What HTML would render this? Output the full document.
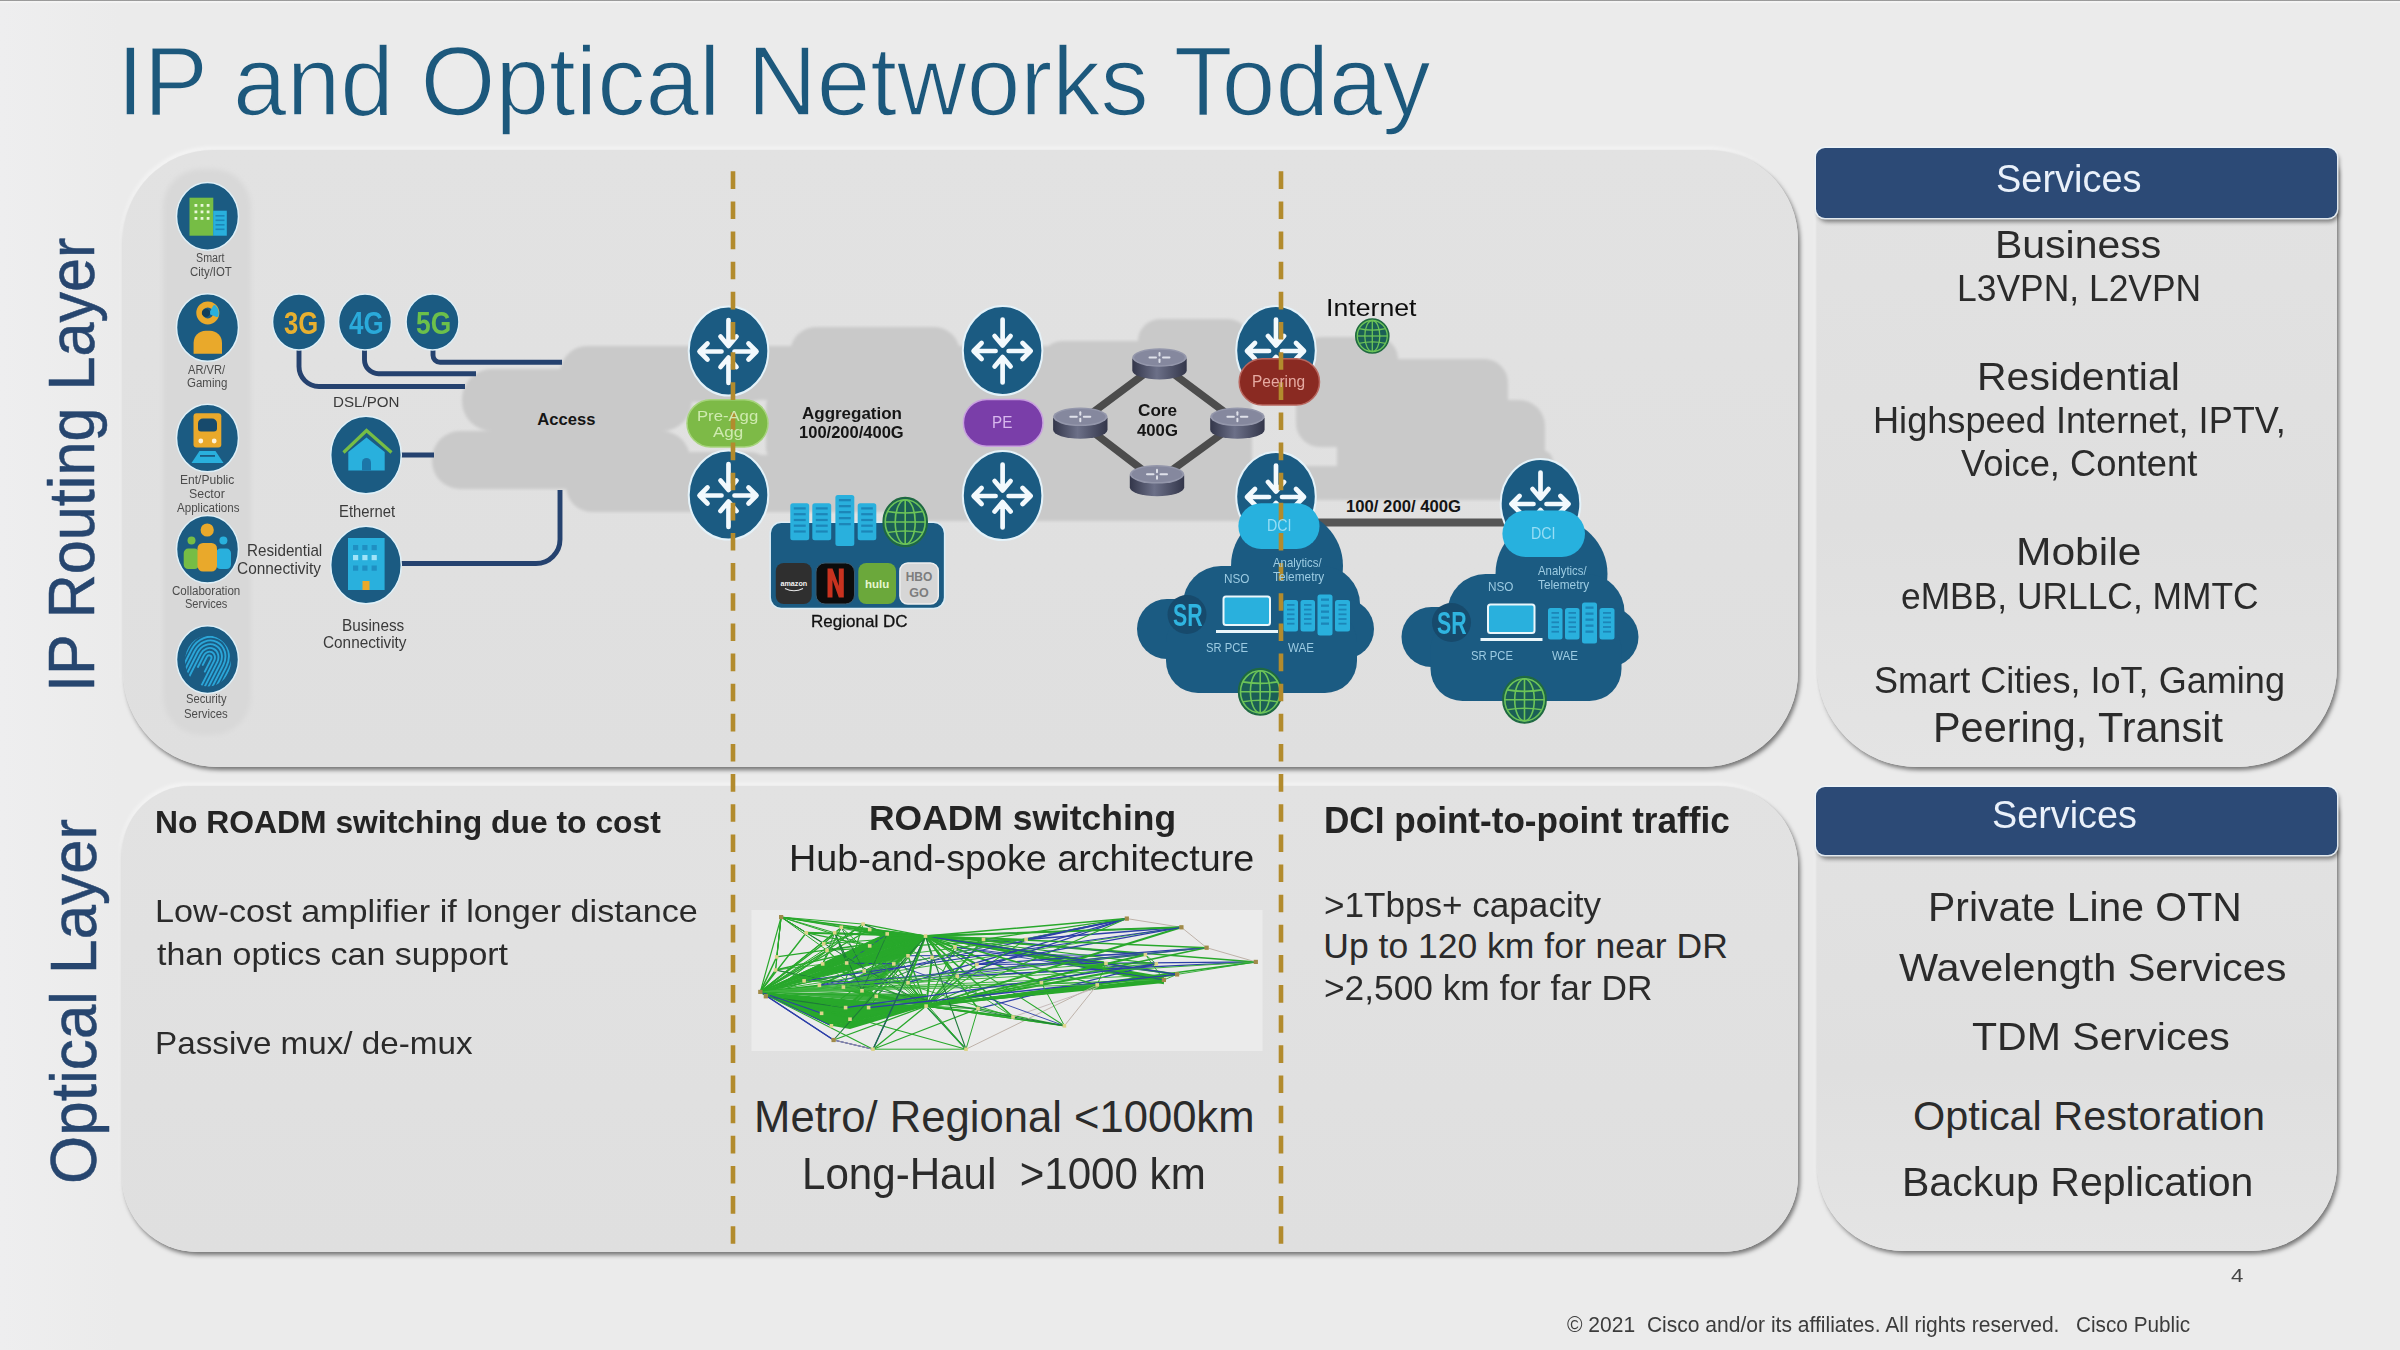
<!DOCTYPE html>
<html>
<head>
<meta charset="utf-8">
<title>IP and Optical Networks Today</title>
<style>
html,body{margin:0;padding:0;}
body{width:2400px;height:1350px;overflow:hidden;position:relative;background:#ebebeb;font-family:"Liberation Sans",sans-serif;}
.abs{position:absolute;}
#bg{left:0;top:0;width:2400px;height:1350px;background:linear-gradient(90deg,#eeeeef 0%,#ebebeb 5%,#ebebeb 100%);}
#topline{left:0;top:0;width:2400px;height:3.4px;background:linear-gradient(180deg,#999 0%,#9b9b9b 22%,#f4f4f4 42%,#f6f6f6 75%,#ebebeb 100%);}
.panel{background:linear-gradient(180deg,#e2e2e2 0%,#dfdfdf 100%);box-shadow:2px 3px 4px rgba(0,0,0,0.5),-1px -3px 4px rgba(255,255,255,0.55);}
.svc-body{background:linear-gradient(180deg,#e2e2e2 0%,#dfdfdf 60%,#e4e4e4 100%);box-shadow:2px 3px 4px rgba(0,0,0,0.5),-2px 0 3px rgba(255,255,255,0.5);}
.svc-head{background:#2c4a76;border-radius:9px;box-shadow:0 0 0 1.5px rgba(236,244,250,0.9),2px 4px 4px rgba(0,0,0,0.45);}
.t{position:absolute;white-space:pre;transform-origin:0 50%;}
svg{position:absolute;left:0;top:0;}
</style>
</head>
<body>
<div id="bg" class="abs"></div>
<div id="topline" class="abs"></div>
<div class="abs panel" style="left:123px;top:150px;width:1675px;height:617px;border-radius:90px 90px 95px 95px;"></div>
<div class="abs panel" style="left:122px;top:786px;width:1676px;height:466px;border-radius:68px 80px 75px 75px;"></div>
<div class="abs svc-body" style="left:1817px;top:160px;width:520px;height:607px;border-radius:10px 10px 100px 100px;"></div>
<div class="abs svc-head" style="left:1816px;top:148px;width:521px;height:70px;"></div>
<div class="abs svc-body" style="left:1817px;top:800px;width:520px;height:451px;border-radius:10px 10px 86px 86px;"></div>
<div class="abs svc-head" style="left:1816px;top:787px;width:521px;height:68px;"></div>
<svg width="2400" height="1350" viewBox="0 0 2400 1350">
<defs><filter id="b1" x="-5%" y="-5%" width="110%" height="110%"><feGaussianBlur stdDeviation="1.6"/></filter><linearGradient id="cyl" x1="0" x2="1" y1="0" y2="0"><stop offset="0" stop-color="#33364a"/><stop offset="0.45" stop-color="#6c7088"/><stop offset="1" stop-color="#33364a"/></linearGradient><filter id="b3" x="-20%" y="-5%" width="140%" height="110%"><feGaussianBlur stdDeviation="2.5"/></filter></defs>
<rect x="163" y="169" width="88" height="566" rx="38" fill="#d8d8d8" filter="url(#b3)"/>
<g fill="#c9c9c9" filter="url(#b1)">
<rect x="560.0" y="346.0" width="215.0" height="56.0" rx="27.0" ry="27.0" fill="#c9c9c9" />
<rect x="462.0" y="369.0" width="230.0" height="62.0" rx="30.0" ry="30.0" fill="#c9c9c9" />
<rect x="432.0" y="431.0" width="258.0" height="58.0" rx="28.0" ry="28.0" fill="#c9c9c9" />
<rect x="566.0" y="452.0" width="209.0" height="60.0" rx="26.0" ry="26.0" fill="#c9c9c9" />
<rect x="600.0" y="395.0" width="62.0" height="65.0" rx="0.0" ry="0.0" fill="#c9c9c9" />
<rect x="790.0" y="327.0" width="170.0" height="58.0" rx="26.0" ry="26.0" fill="#c9c9c9" />
<rect x="740.0" y="346.0" width="510.0" height="54.0" rx="10.0" ry="10.0" fill="#c9c9c9" />
<rect x="766.0" y="392.0" width="200.0" height="70.0" rx="14.0" ry="14.0" fill="#c9c9c9" />
<rect x="740.0" y="455.0" width="510.0" height="57.0" rx="10.0" ry="10.0" fill="#c9c9c9" />
<rect x="955.0" y="396.0" width="95.0" height="64.0" rx="0.0" ry="0.0" fill="#c9c9c9" />
<rect x="1138.0" y="319.0" width="112.0" height="46.0" rx="22.0" ry="22.0" fill="#c9c9c9" />
<rect x="1042.0" y="341.0" width="210.0" height="180.0" rx="20.0" ry="20.0" fill="#c9c9c9" />
<rect x="880.0" y="462.0" width="370.0" height="59.0" rx="22.0" ry="22.0" fill="#c9c9c9" />
<rect x="1230.0" y="341.0" width="100.0" height="61.0" rx="6.0" ry="6.0" fill="#c9c9c9" />
<rect x="1230.0" y="466.0" width="60.0" height="55.0" rx="6.0" ry="6.0" fill="#c9c9c9" />
<rect x="1280.0" y="466.0" width="120.0" height="34.0" rx="4.0" ry="4.0" fill="#c9c9c9" />
<rect x="1300.0" y="337.0" width="98.0" height="65.0" rx="22.0" ry="22.0" fill="#c9c9c9" />
<rect x="1296.0" y="359.0" width="212.0" height="88.0" rx="24.0" ry="24.0" fill="#c9c9c9" />
<rect x="1380.0" y="400.0" width="165.0" height="100.0" rx="26.0" ry="26.0" fill="#c9c9c9" />
<rect x="1337.0" y="425.0" width="208.0" height="75.0" rx="14.0" ry="14.0" fill="#c9c9c9" />
<rect x="1490.0" y="450.0" width="63.0" height="50.0" rx="12.0" ry="12.0" fill="#c9c9c9" />
</g>
<g fill="none" stroke="#25426f" stroke-width="4.9">
<path d="M299,348 V366.5 a20,20 0 0 0 20,20 H465"/>
<path d="M364.5,348 V359.7 a14,14 0 0 0 14,14 H476"/>
<path d="M433,348 V355.3 a7,7 0 0 0 7,7 H562"/>
<path d="M400,455 H434"/>
<path d="M400,563.5 H536 a24,24 0 0 0 24,-24 V490"/>
</g>
<g stroke="#4c4c4c" stroke-width="7.6" stroke-linecap="round">
<line x1="1159" y1="363" x2="1080" y2="422"/><line x1="1159" y1="363" x2="1238" y2="422"/>
<line x1="1157" y1="481" x2="1080" y2="422"/><line x1="1157" y1="481" x2="1238" y2="422"/>
</g>
<path d="M1132.3,358.5 v12 a27.2,9 0 0 0 54.4,0 v-12 z" fill="url(#cyl)"/>
<ellipse cx="1159.5" cy="357.5" rx="27.2" ry="9.3" fill="#9497ab"/>
<ellipse cx="1159.5" cy="357.5" rx="25.2" ry="7.8" fill="#85889e"/>
<g stroke="#dfe1ea" stroke-width="2" stroke-linecap="round"><line x1="1149.5" y1="357.5" x2="1156.0" y2="357.5"/><line x1="1163.0" y1="357.5" x2="1169.5" y2="357.5"/><line x1="1159.5" y1="353.0" x2="1159.5" y2="355.5"/><line x1="1159.5" y1="359.5" x2="1159.5" y2="362.0"/></g>
<path d="M1053.1,417.8 v12 a27.2,9 0 0 0 54.4,0 v-12 z" fill="url(#cyl)"/>
<ellipse cx="1080.3" cy="416.8" rx="27.2" ry="9.3" fill="#9497ab"/>
<ellipse cx="1080.3" cy="416.8" rx="25.2" ry="7.8" fill="#85889e"/>
<g stroke="#dfe1ea" stroke-width="2" stroke-linecap="round"><line x1="1070.3" y1="416.8" x2="1076.8" y2="416.8"/><line x1="1083.8" y1="416.8" x2="1090.3" y2="416.8"/><line x1="1080.3" y1="412.3" x2="1080.3" y2="414.8"/><line x1="1080.3" y1="418.8" x2="1080.3" y2="421.3"/></g>
<path d="M1210.2,417.8 v12 a27.2,9 0 0 0 54.4,0 v-12 z" fill="url(#cyl)"/>
<ellipse cx="1237.4" cy="416.8" rx="27.2" ry="9.3" fill="#9497ab"/>
<ellipse cx="1237.4" cy="416.8" rx="25.2" ry="7.8" fill="#85889e"/>
<g stroke="#dfe1ea" stroke-width="2" stroke-linecap="round"><line x1="1227.4" y1="416.8" x2="1233.9" y2="416.8"/><line x1="1240.9" y1="416.8" x2="1247.4" y2="416.8"/><line x1="1237.4" y1="412.3" x2="1237.4" y2="414.8"/><line x1="1237.4" y1="418.8" x2="1237.4" y2="421.3"/></g>
<path d="M1129.8,475.3 v12 a27.2,9 0 0 0 54.4,0 v-12 z" fill="url(#cyl)"/>
<ellipse cx="1157.0" cy="474.3" rx="27.2" ry="9.3" fill="#9497ab"/>
<ellipse cx="1157.0" cy="474.3" rx="25.2" ry="7.8" fill="#85889e"/>
<g stroke="#dfe1ea" stroke-width="2" stroke-linecap="round"><line x1="1147.0" y1="474.3" x2="1153.5" y2="474.3"/><line x1="1160.5" y1="474.3" x2="1167.0" y2="474.3"/><line x1="1157.0" y1="469.8" x2="1157.0" y2="472.3"/><line x1="1157.0" y1="476.3" x2="1157.0" y2="478.8"/></g>
<rect x="1310" y="518.5" width="200" height="8" fill="#555"/>
<g transform="translate(0.0 0.0)">
<g fill="#1b5b82">
<circle cx="1287" cy="566" r="56"/>
<rect x="1183.0" y="566.0" width="177.0" height="94.0" rx="38.0" ry="38.0" fill="#1b5b82" />
<rect x="1137.0" y="599.0" width="237.0" height="60.0" rx="30.0" ry="30.0" fill="#1b5b82" />
<rect x="1166.0" y="610.0" width="191.0" height="83.0" rx="32.0" ry="32.0" fill="#1b5b82" />
</g>
<circle cx="1187" cy="614.5" r="19.5" fill="#174a6c"/>
<rect x="1223.5" y="596.5" width="46.5" height="28.5" rx="2.5" fill="#29b0dd" stroke="#eaf6fb" stroke-width="2"/>
<rect x="1216" y="630" width="62" height="3" fill="#eaf6fb"/>
<rect x="1283.5" y="600.0" width="14.5" height="31.5" rx="2.5" ry="2.5" fill="#29b0dd" />
<rect x="1287.0" y="604.0" width="7.5" height="1.8" fill="#1c86b8"/>
<rect x="1287.0" y="608.7" width="7.5" height="1.8" fill="#1c86b8"/>
<rect x="1287.0" y="613.4" width="7.5" height="1.8" fill="#1c86b8"/>
<rect x="1287.0" y="618.1" width="7.5" height="1.8" fill="#1c86b8"/>
<rect x="1287.0" y="622.8" width="7.5" height="1.8" fill="#1c86b8"/>
<rect x="1300.5" y="600.0" width="14.5" height="31.5" rx="2.5" ry="2.5" fill="#29b0dd" />
<rect x="1304.0" y="604.0" width="7.5" height="1.8" fill="#1c86b8"/>
<rect x="1304.0" y="608.7" width="7.5" height="1.8" fill="#1c86b8"/>
<rect x="1304.0" y="613.4" width="7.5" height="1.8" fill="#1c86b8"/>
<rect x="1304.0" y="618.1" width="7.5" height="1.8" fill="#1c86b8"/>
<rect x="1304.0" y="622.8" width="7.5" height="1.8" fill="#1c86b8"/>
<rect x="1317.5" y="594.5" width="15.0" height="41.0" rx="2.5" ry="2.5" fill="#29b0dd" />
<rect x="1321.0" y="598.5" width="8.0" height="2.3" fill="#1c86b8"/>
<rect x="1321.0" y="604.5" width="8.0" height="2.3" fill="#1c86b8"/>
<rect x="1321.0" y="610.5" width="8.0" height="2.3" fill="#1c86b8"/>
<rect x="1321.0" y="616.5" width="8.0" height="2.3" fill="#1c86b8"/>
<rect x="1321.0" y="622.5" width="8.0" height="2.3" fill="#1c86b8"/>
<rect x="1335.0" y="600.0" width="15.0" height="31.5" rx="2.5" ry="2.5" fill="#29b0dd" />
<rect x="1338.5" y="604.0" width="8.0" height="1.8" fill="#1c86b8"/>
<rect x="1338.5" y="608.7" width="8.0" height="1.8" fill="#1c86b8"/>
<rect x="1338.5" y="613.4" width="8.0" height="1.8" fill="#1c86b8"/>
<rect x="1338.5" y="618.1" width="8.0" height="1.8" fill="#1c86b8"/>
<rect x="1338.5" y="622.8" width="8.0" height="1.8" fill="#1c86b8"/>
</g>
<g transform="translate(264.5 8.0)">
<g fill="#1b5b82">
<circle cx="1287" cy="566" r="56"/>
<rect x="1183.0" y="566.0" width="177.0" height="94.0" rx="38.0" ry="38.0" fill="#1b5b82" />
<rect x="1137.0" y="599.0" width="237.0" height="60.0" rx="30.0" ry="30.0" fill="#1b5b82" />
<rect x="1166.0" y="610.0" width="191.0" height="83.0" rx="32.0" ry="32.0" fill="#1b5b82" />
</g>
<circle cx="1187" cy="614.5" r="19.5" fill="#174a6c"/>
<rect x="1223.5" y="596.5" width="46.5" height="28.5" rx="2.5" fill="#29b0dd" stroke="#eaf6fb" stroke-width="2"/>
<rect x="1216" y="630" width="62" height="3" fill="#eaf6fb"/>
<rect x="1283.5" y="600.0" width="14.5" height="31.5" rx="2.5" ry="2.5" fill="#29b0dd" />
<rect x="1287.0" y="604.0" width="7.5" height="1.8" fill="#1c86b8"/>
<rect x="1287.0" y="608.7" width="7.5" height="1.8" fill="#1c86b8"/>
<rect x="1287.0" y="613.4" width="7.5" height="1.8" fill="#1c86b8"/>
<rect x="1287.0" y="618.1" width="7.5" height="1.8" fill="#1c86b8"/>
<rect x="1287.0" y="622.8" width="7.5" height="1.8" fill="#1c86b8"/>
<rect x="1300.5" y="600.0" width="14.5" height="31.5" rx="2.5" ry="2.5" fill="#29b0dd" />
<rect x="1304.0" y="604.0" width="7.5" height="1.8" fill="#1c86b8"/>
<rect x="1304.0" y="608.7" width="7.5" height="1.8" fill="#1c86b8"/>
<rect x="1304.0" y="613.4" width="7.5" height="1.8" fill="#1c86b8"/>
<rect x="1304.0" y="618.1" width="7.5" height="1.8" fill="#1c86b8"/>
<rect x="1304.0" y="622.8" width="7.5" height="1.8" fill="#1c86b8"/>
<rect x="1317.5" y="594.5" width="15.0" height="41.0" rx="2.5" ry="2.5" fill="#29b0dd" />
<rect x="1321.0" y="598.5" width="8.0" height="2.3" fill="#1c86b8"/>
<rect x="1321.0" y="604.5" width="8.0" height="2.3" fill="#1c86b8"/>
<rect x="1321.0" y="610.5" width="8.0" height="2.3" fill="#1c86b8"/>
<rect x="1321.0" y="616.5" width="8.0" height="2.3" fill="#1c86b8"/>
<rect x="1321.0" y="622.5" width="8.0" height="2.3" fill="#1c86b8"/>
<rect x="1335.0" y="600.0" width="15.0" height="31.5" rx="2.5" ry="2.5" fill="#29b0dd" />
<rect x="1338.5" y="604.0" width="8.0" height="1.8" fill="#1c86b8"/>
<rect x="1338.5" y="608.7" width="8.0" height="1.8" fill="#1c86b8"/>
<rect x="1338.5" y="613.4" width="8.0" height="1.8" fill="#1c86b8"/>
<rect x="1338.5" y="618.1" width="8.0" height="1.8" fill="#1c86b8"/>
<rect x="1338.5" y="622.8" width="8.0" height="1.8" fill="#1c86b8"/>
</g>
<ellipse cx="728.5" cy="351.0" rx="39.8" ry="44.5" fill="#1b5b82" stroke="#e4f2f9" stroke-width="2"/>
<g transform="translate(728.5 351.0)" fill="none" stroke="#f2f9fd" stroke-width="4.7" stroke-linecap="round" stroke-linejoin="round">
<path d="M0,-31 L0,-6 M-8,-14.5 L0,-5 L8,-14.5"/>
<path d="M0,32 L0,8 M-8,16 L0,6.5 L8,16"/>
<path d="M-7,0.5 L-28,0.5 M-21,-7.5 L-29,0.5 L-21,8.5"/>
<path d="M6,0.5 L27,0.5 M20,-7.5 L28,0.5 L20,8.5"/>
</g>
<ellipse cx="728.5" cy="495.0" rx="39.8" ry="44.5" fill="#1b5b82" stroke="#e4f2f9" stroke-width="2"/>
<g transform="translate(728.5 495.0)" fill="none" stroke="#f2f9fd" stroke-width="4.7" stroke-linecap="round" stroke-linejoin="round">
<path d="M0,-31 L0,-6 M-8,-14.5 L0,-5 L8,-14.5"/>
<path d="M0,32 L0,8 M-8,16 L0,6.5 L8,16"/>
<path d="M-7,0.5 L-28,0.5 M-21,-7.5 L-29,0.5 L-21,8.5"/>
<path d="M6,0.5 L27,0.5 M20,-7.5 L28,0.5 L20,8.5"/>
</g>
<ellipse cx="1002.6" cy="350.5" rx="39.8" ry="44.5" fill="#1b5b82" stroke="#e4f2f9" stroke-width="2"/>
<g transform="translate(1002.6 350.5)" fill="none" stroke="#f2f9fd" stroke-width="4.7" stroke-linecap="round" stroke-linejoin="round">
<path d="M0,-31 L0,-6 M-8,-14.5 L0,-5 L8,-14.5"/>
<path d="M0,32 L0,8 M-8,16 L0,6.5 L8,16"/>
<path d="M-7,0.5 L-28,0.5 M-21,-7.5 L-29,0.5 L-21,8.5"/>
<path d="M6,0.5 L27,0.5 M20,-7.5 L28,0.5 L20,8.5"/>
</g>
<ellipse cx="1002.6" cy="495.5" rx="39.8" ry="44.5" fill="#1b5b82" stroke="#e4f2f9" stroke-width="2"/>
<g transform="translate(1002.6 495.5)" fill="none" stroke="#f2f9fd" stroke-width="4.7" stroke-linecap="round" stroke-linejoin="round">
<path d="M0,-31 L0,-6 M-8,-14.5 L0,-5 L8,-14.5"/>
<path d="M0,32 L0,8 M-8,16 L0,6.5 L8,16"/>
<path d="M-7,0.5 L-28,0.5 M-21,-7.5 L-29,0.5 L-21,8.5"/>
<path d="M6,0.5 L27,0.5 M20,-7.5 L28,0.5 L20,8.5"/>
</g>
<ellipse cx="1276.0" cy="350.5" rx="39.8" ry="44.5" fill="#1b5b82" stroke="#e4f2f9" stroke-width="2"/>
<g transform="translate(1276.0 350.5)" fill="none" stroke="#f2f9fd" stroke-width="4.7" stroke-linecap="round" stroke-linejoin="round">
<path d="M0,-31 L0,-6 M-8,-14.5 L0,-5 L8,-14.5"/>
<path d="M0,32 L0,8 M-8,16 L0,6.5 L8,16"/>
<path d="M-7,0.5 L-28,0.5 M-21,-7.5 L-29,0.5 L-21,8.5"/>
<path d="M6,0.5 L27,0.5 M20,-7.5 L28,0.5 L20,8.5"/>
</g>
<ellipse cx="1276.0" cy="496.5" rx="39.8" ry="44.5" fill="#1b5b82" stroke="#e4f2f9" stroke-width="2"/>
<g transform="translate(1276.0 496.5)" fill="none" stroke="#f2f9fd" stroke-width="4.7" stroke-linecap="round" stroke-linejoin="round">
<path d="M0,-31 L0,-6 M-8,-14.5 L0,-5 L8,-14.5"/>
<path d="M0,32 L0,8 M-8,16 L0,6.5 L8,16"/>
<path d="M-7,0.5 L-28,0.5 M-21,-7.5 L-29,0.5 L-21,8.5"/>
<path d="M6,0.5 L27,0.5 M20,-7.5 L28,0.5 L20,8.5"/>
</g>
<ellipse cx="1540.5" cy="503.5" rx="39.8" ry="44.5" fill="#1b5b82" stroke="#e4f2f9" stroke-width="2"/>
<g transform="translate(1540.5 503.5)" fill="none" stroke="#f2f9fd" stroke-width="4.7" stroke-linecap="round" stroke-linejoin="round">
<path d="M0,-31 L0,-6 M-8,-14.5 L0,-5 L8,-14.5"/>
<path d="M0,32 L0,8 M-8,16 L0,6.5 L8,16"/>
<path d="M-7,0.5 L-28,0.5 M-21,-7.5 L-29,0.5 L-21,8.5"/>
<path d="M6,0.5 L27,0.5 M20,-7.5 L28,0.5 L20,8.5"/>
</g>
<rect x="687.0" y="399.7" width="81.0" height="47.3" rx="23.7" ry="23.7" fill="#7dba47" stroke="#a6d47c" stroke-width="1.5"/>
<rect x="963.4" y="399.5" width="79.6" height="46.7" rx="23.3" ry="23.3" fill="#7a3ea9" stroke="#c9a0e0" stroke-width="1.5"/>
<rect x="1239.2" y="358.8" width="80.3" height="46.2" rx="23.1" ry="23.1" fill="#8a2a22" stroke="#b8665e" stroke-width="1.5"/>
<rect x="1238.4" y="503.3" width="81.1" height="45.7" rx="22.8" ry="22.8" fill="#27b1de" />
<rect x="1502.4" y="510.5" width="82.6" height="46.5" rx="23.2" ry="23.2" fill="#27b1de" />
<rect x="770.2" y="522.2" width="174.4" height="86.3" rx="11.0" ry="11.0" fill="#1b5b82" stroke="#dcedf6" stroke-width="1.5"/>
<rect x="790.3" y="503.3" width="18.9" height="36.9" rx="2.5" ry="2.5" fill="#29b0dd" />
<rect x="793.8" y="507.3" width="11.9" height="2.2" fill="#1c86b8"/>
<rect x="793.8" y="513.1" width="11.9" height="2.2" fill="#1c86b8"/>
<rect x="793.8" y="518.9" width="11.9" height="2.2" fill="#1c86b8"/>
<rect x="793.8" y="524.6" width="11.9" height="2.2" fill="#1c86b8"/>
<rect x="793.8" y="530.4" width="11.9" height="2.2" fill="#1c86b8"/>
<rect x="812.3" y="503.3" width="18.9" height="36.9" rx="2.5" ry="2.5" fill="#29b0dd" />
<rect x="815.8" y="507.3" width="11.9" height="2.2" fill="#1c86b8"/>
<rect x="815.8" y="513.1" width="11.9" height="2.2" fill="#1c86b8"/>
<rect x="815.8" y="518.9" width="11.9" height="2.2" fill="#1c86b8"/>
<rect x="815.8" y="524.6" width="11.9" height="2.2" fill="#1c86b8"/>
<rect x="815.8" y="530.4" width="11.9" height="2.2" fill="#1c86b8"/>
<rect x="835.4" y="495.0" width="18.9" height="51.0" rx="2.5" ry="2.5" fill="#29b0dd" />
<rect x="838.9" y="499.0" width="11.9" height="2.3" fill="#1c86b8"/>
<rect x="838.9" y="505.0" width="11.9" height="2.3" fill="#1c86b8"/>
<rect x="838.9" y="511.0" width="11.9" height="2.3" fill="#1c86b8"/>
<rect x="838.9" y="517.0" width="11.9" height="2.3" fill="#1c86b8"/>
<rect x="838.9" y="523.0" width="11.9" height="2.3" fill="#1c86b8"/>
<rect x="857.7" y="503.3" width="18.6" height="36.9" rx="2.5" ry="2.5" fill="#29b0dd" />
<rect x="861.2" y="507.3" width="11.6" height="2.2" fill="#1c86b8"/>
<rect x="861.2" y="513.1" width="11.6" height="2.2" fill="#1c86b8"/>
<rect x="861.2" y="518.9" width="11.6" height="2.2" fill="#1c86b8"/>
<rect x="861.2" y="524.6" width="11.6" height="2.2" fill="#1c86b8"/>
<rect x="861.2" y="530.4" width="11.6" height="2.2" fill="#1c86b8"/>
<g transform="translate(905.2 522.0)">
<ellipse cx="0" cy="0" rx="22.0" ry="24.5" fill="#1b5f56" stroke="#1f6a3f" stroke-width="1.6"/>
<g fill="none" stroke="#6cc458" stroke-width="1.6">
<ellipse cx="0" cy="0" rx="20.0" ry="22.3"/>
<ellipse cx="0" cy="0" rx="10.0" ry="22.3"/>
<line x1="0" y1="-22.3" x2="0" y2="22.3"/>
<line x1="-20.0" y1="0" x2="20.0" y2="0"/>
<path d="M-17.7,-10.5 Q0,-7.5 17.7,-10.5"/>
<path d="M-17.7,10.5 Q0,7.5 17.7,10.5"/>
</g></g>
<rect x="775.8" y="563.0" width="35.9" height="41.0" rx="8.0" ry="8.0" fill="#2f2f2f" />
<rect x="816.0" y="563.0" width="38.5" height="41.0" rx="9.0" ry="9.0" fill="#0c0c0c" stroke="#3a5a6e" stroke-width="1"/>
<rect x="858.3" y="563.0" width="37.7" height="41.0" rx="8.0" ry="8.0" fill="#6ba83b" />
<rect x="899.9" y="563.0" width="38.4" height="41.0" rx="8.0" ry="8.0" fill="#d6d6d6" stroke="#eeeeee" stroke-width="1.5"/>
<path d="M827.5,568.5 h5 l6.3,17.5 v-17.5 h5 v29 h-5 l-6.3,-17.5 v17.5 h-5 z" fill="#c8321f"/>
<text x="793.8" y="586" font-family="Liberation Sans" font-weight="bold" font-size="7.2" fill="#f2f2f2" text-anchor="middle">amazon</text>
<path d="M785,588.5 q9,4.5 18,0" stroke="#e8e8e8" stroke-width="1.1" fill="none"/>
<text x="877.2" y="588" font-family="Liberation Sans" font-weight="bold" font-size="11.5" fill="#e6f7d0" text-anchor="middle">hulu</text>
<text x="919" y="581" font-family="Liberation Sans" font-weight="bold" font-size="12" fill="#7d7d7d" text-anchor="middle">HBO</text>
<text x="919" y="597" font-family="Liberation Sans" font-weight="bold" font-size="12.5" fill="#7d7d7d" text-anchor="middle">GO</text>
<ellipse cx="299.0" cy="322" rx="26.4" ry="28" fill="#1b5b82" stroke="#dff0f8" stroke-width="1.4"/>
<ellipse cx="365.0" cy="322" rx="26.4" ry="28" fill="#1b5b82" stroke="#dff0f8" stroke-width="1.4"/>
<ellipse cx="432.5" cy="322" rx="26.4" ry="28" fill="#1b5b82" stroke="#dff0f8" stroke-width="1.4"/>
<ellipse cx="366" cy="455" rx="35.3" ry="38.8" fill="#1b5b82" stroke="#dff0f8" stroke-width="1.5"/>
<path d="M348.3,470.5 V452 L366.5,437.5 L384.7,452 V470.5 z" fill="#29b0dd"/>
<path d="M343.5,452.5 L366.5,430.5 L391.5,452.5" fill="none" stroke="#76bd45" stroke-width="3.2"/>
<path d="M362,470.5 v-8 a4.5,4.5 0 0 1 9,0 v8 z" fill="#1c76a8"/>
<ellipse cx="366" cy="565" rx="35.3" ry="38.8" fill="#1b5b82" stroke="#dff0f8" stroke-width="1.5"/>
<rect x="348" y="538" width="36.6" height="52" fill="#29b0dd"/>
<rect x="353.0" y="545.0" width="5.2" height="5.2" fill="#1f8fc2"/>
<rect x="362.3" y="545.0" width="5.2" height="5.2" fill="#1f8fc2"/>
<rect x="371.6" y="545.0" width="5.2" height="5.2" fill="#1f8fc2"/>
<rect x="353.0" y="555.0" width="5.2" height="5.2" fill="#9fe3f8"/>
<rect x="362.3" y="555.0" width="5.2" height="5.2" fill="#9fe3f8"/>
<rect x="371.6" y="555.0" width="5.2" height="5.2" fill="#9fe3f8"/>
<rect x="353.0" y="565.5" width="5.2" height="5.2" fill="#1f8fc2"/>
<rect x="362.3" y="565.5" width="5.2" height="5.2" fill="#1f8fc2"/>
<rect x="371.6" y="565.5" width="5.2" height="5.2" fill="#1f8fc2"/>
<rect x="362.5" y="581" width="7" height="9" fill="#e9a92b"/>
<ellipse cx="207.5" cy="216.4" rx="31" ry="33.8" fill="#1b5b82" stroke="#dff0f8" stroke-width="1.5"/>
<rect x="189.5" y="197.7" width="23.8" height="38" fill="#76bd45"/>
<rect x="213.2" y="210.7" width="13.6" height="25" fill="#29b0dd"/>
<rect x="194.5" y="204.0" width="2.8" height="2.8" fill="#e9f8d8"/>
<rect x="200.6" y="204.0" width="2.8" height="2.8" fill="#e9f8d8"/>
<rect x="206.7" y="204.0" width="2.8" height="2.8" fill="#e9f8d8"/>
<rect x="194.5" y="210.5" width="2.8" height="2.8" fill="#e9f8d8"/>
<rect x="200.6" y="210.5" width="2.8" height="2.8" fill="#e9f8d8"/>
<rect x="206.7" y="210.5" width="2.8" height="2.8" fill="#e9f8d8"/>
<rect x="194.5" y="217.0" width="2.8" height="2.8" fill="#e9f8d8"/>
<rect x="200.6" y="217.0" width="2.8" height="2.8" fill="#e9f8d8"/>
<rect x="206.7" y="217.0" width="2.8" height="2.8" fill="#e9f8d8"/>
<rect x="215.5" y="215.0" width="9" height="1.6" fill="#1c86b8"/>
<rect x="215.5" y="219.5" width="9" height="1.6" fill="#1c86b8"/>
<rect x="215.5" y="224.0" width="9" height="1.6" fill="#1c86b8"/>
<rect x="215.5" y="228.5" width="9" height="1.6" fill="#1c86b8"/>
<ellipse cx="207.5" cy="327.5" rx="31" ry="33.8" fill="#1b5b82" stroke="#dff0f8" stroke-width="1.5"/>
<path d="M193.6,353.8 v-11 a12,12 0 0 1 12,-12 h4.4 a12,12 0 0 1 12,12 v11 z" fill="#e9a92b"/>
<circle cx="207.8" cy="312.9" r="8.5" fill="none" stroke="#e9a92b" stroke-width="6"/>
<path d="M214.5,306.5 a9.5,9.5 0 0 1 2.5,9 l-6,-2.5 z" fill="#29b0dd" stroke="#29b0dd" stroke-width="3" stroke-linejoin="round"/>
<circle cx="206" cy="312.9" r="4.2" fill="#123f5a"/>
<ellipse cx="207.5" cy="438.0" rx="31" ry="33.8" fill="#1b5b82" stroke="#dff0f8" stroke-width="1.5"/>
<rect x="193.5" y="413.3" width="27.8" height="34.2" rx="3.0" ry="3.0" fill="#e9a92b" />
<path d="M198,428.5 v-5 a5,5 0 0 1 5,-5 h9 a5,5 0 0 1 5,5 v5 a3,3 0 0 1 -3,3 h-13 a3,3 0 0 1 -3,-3 z" fill="#174a6c"/>
<circle cx="200.8" cy="441" r="2.4" fill="#fdf3d8"/><circle cx="214.2" cy="441" r="2.4" fill="#fdf3d8"/>
<path d="M199.5,451 h16 l8,12 h-32 z" fill="#29b0dd"/>
<rect x="200" y="455" width="15" height="1.8" fill="#1b5b82"/>
<ellipse cx="207.5" cy="549.3" rx="31" ry="33.8" fill="#1b5b82" stroke="#dff0f8" stroke-width="1.5"/>
<rect x="183.7" y="548.6" width="15.3" height="20.4" rx="4.5" ry="4.5" fill="#76bd45" />
<circle cx="191.5" cy="540.5" r="4" fill="#76bd45"/>
<rect x="216.0" y="548.6" width="15.0" height="20.4" rx="4.5" ry="4.5" fill="#29b0dd" />
<circle cx="223.4" cy="540.5" r="4" fill="#29b0dd"/>
<rect x="197.5" y="543.0" width="19.5" height="28.5" rx="5.5" ry="5.5" fill="#e9a92b" />
<circle cx="207.2" cy="530" r="6.6" fill="#e9a92b"/>
<ellipse cx="207.5" cy="659.6" rx="31" ry="33.8" fill="#1b5b82" stroke="#dff0f8" stroke-width="1.5"/>
<clipPath id="fpc"><ellipse cx="208" cy="661" rx="23" ry="25.5"/></clipPath>
<g clip-path="url(#fpc)"><g fill="none" stroke="#2ba6d8" stroke-width="1.9" stroke-linecap="round" transform="translate(209 658) rotate(27)">
<path d="M-2.4,9.0 V0 A2.4,2.7 0 0 1 2.4,0 V14.0"/>
<path d="M-5.8,13.0 V0 A5.8,6.5 0 0 1 5.8,0 V30.0"/>
<path d="M-9.2,30.0 V0 A9.2,10.3 0 0 1 9.2,0 V30.0"/>
<path d="M-12.6,30.0 V0 A12.6,14.1 0 0 1 12.6,0 V30.0"/>
<path d="M-16.0,30.0 V0 A16.0,17.9 0 0 1 16.0,0 V30.0"/>
<path d="M-19.4,30.0 V0 A19.4,21.7 0 0 1 19.4,0 V30.0"/>
<path d="M-22.8,30.0 V0 A22.8,25.5 0 0 1 22.8,0 V30.0"/>
</g></g>
<g transform="translate(1372.3 336.0)">
<ellipse cx="0" cy="0" rx="16.5" ry="17.0" fill="#1b5f56" stroke="#1f6a3f" stroke-width="1.6"/>
<g fill="none" stroke="#6cc458" stroke-width="1.3">
<ellipse cx="0" cy="0" rx="15.0" ry="15.5"/>
<ellipse cx="0" cy="0" rx="7.5" ry="15.5"/>
<line x1="0" y1="-15.5" x2="0" y2="15.5"/>
<line x1="-15.0" y1="0" x2="15.0" y2="0"/>
<path d="M-13.3,-7.3 Q0,-4.3 13.3,-7.3"/>
<path d="M-13.3,7.3 Q0,4.3 13.3,7.3"/>
</g></g>
<g transform="translate(1260.2 691.8)">
<ellipse cx="0" cy="0" rx="21.6" ry="23.2" fill="#1b5f56" stroke="#1f6a3f" stroke-width="1.6"/>
<g fill="none" stroke="#6cc458" stroke-width="1.6">
<ellipse cx="0" cy="0" rx="19.7" ry="21.1"/>
<ellipse cx="0" cy="0" rx="9.8" ry="21.1"/>
<line x1="0" y1="-21.1" x2="0" y2="21.1"/>
<line x1="-19.7" y1="0" x2="19.7" y2="0"/>
<path d="M-17.3,-9.9 Q0,-6.9 17.3,-9.9"/>
<path d="M-17.3,9.9 Q0,6.9 17.3,9.9"/>
</g></g>
<g transform="translate(1524.5 699.8)">
<ellipse cx="0" cy="0" rx="21.6" ry="23.2" fill="#1b5f56" stroke="#1f6a3f" stroke-width="1.6"/>
<g fill="none" stroke="#6cc458" stroke-width="1.6">
<ellipse cx="0" cy="0" rx="19.7" ry="21.1"/>
<ellipse cx="0" cy="0" rx="9.8" ry="21.1"/>
<line x1="0" y1="-21.1" x2="0" y2="21.1"/>
<line x1="-19.7" y1="0" x2="19.7" y2="0"/>
<path d="M-17.3,-9.9 Q0,-6.9 17.3,-9.9"/>
<path d="M-17.3,9.9 Q0,6.9 17.3,9.9"/>
</g></g>
<rect x="751.5" y="910" width="511" height="141" fill="#ebebeb"/>
<g stroke-linecap="round">
<path d="M760.3,991.9 L887.2,932.8 L925.5,936.1 z" fill="#28a82b" opacity="1.00"/>
<path d="M760.3,991.9 L925.5,936.1 L911.3,954.7 z" fill="#28a82b" opacity="1.00"/>
<path d="M760.3,991.9 L831.4,1025.8 L926.1,1006.1 z" fill="#28a82b" opacity="1.00"/>
<path d="M760.3,991.9 L926.1,1006.1 L926.1,994.1 z" fill="#28a82b" opacity="0.90"/>
<path d="M831.4,1025.8 L926.1,1006.1 L850.0,1029.1 z" fill="#28a82b" opacity="1.00"/>
<path d="M925.5,936.1 L1163.9,976.6 L1163.9,984.2 z" fill="#28a82b" opacity="1.00"/>
<path d="M925.5,936.1 L1103.8,961.3 L1108.2,966.7 z" fill="#28a82b" opacity="1.00"/>
<path d="M926.1,1006.1 L1097.2,982.0 L1098.3,988.6 z" fill="#28a82b" opacity="1.00"/>
<path d="M926.1,1006.1 L1161.8,977.7 L1163.9,983.1 z" fill="#28a82b" opacity="1.00"/>
<path d="M839.1,987.5 L925.5,936.1 L867.5,996.3 z" fill="#28a82b" opacity="0.85"/>
<path d="M841.3,928.4 L925.5,936.1 L887.2,937.2 z" fill="#28a82b" opacity="1.00"/>
<line x1="876.3" y1="996.3" x2="827.0" y2="950.3" stroke="#28a82b" stroke-width="1.2"/>
<line x1="925.5" y1="936.1" x2="932.0" y2="957.3" stroke="#28a82b" stroke-width="1.1"/>
<line x1="966.0" y1="1049.2" x2="760.3" y2="991.9" stroke="#28a82b" stroke-width="1.1"/>
<line x1="925.5" y1="936.1" x2="827.0" y2="950.3" stroke="#28a82b" stroke-width="1.0"/>
<line x1="966.0" y1="1049.2" x2="978.0" y2="1008.7" stroke="#28a82b" stroke-width="1.0"/>
<line x1="765.8" y1="996.3" x2="845.6" y2="1007.6" stroke="#1e7a3a" stroke-width="1.2"/>
<line x1="926.1" y1="1006.1" x2="819.4" y2="985.3" stroke="#28a82b" stroke-width="1.5"/>
<line x1="926.1" y1="1006.1" x2="868.6" y2="1007.6" stroke="#28a82b" stroke-width="1.0"/>
<line x1="887.2" y1="933.9" x2="846.7" y2="963.0" stroke="#2c3fa8" stroke-width="0.9"/>
<line x1="908.0" y1="955.8" x2="1145.4" y2="954.7" stroke="#2c3fa8" stroke-width="1.1"/>
<line x1="926.1" y1="1006.1" x2="1097.2" y2="984.9" stroke="#28a82b" stroke-width="2.0"/>
<line x1="925.5" y1="936.1" x2="804.1" y2="980.9" stroke="#28a82b" stroke-width="1.9"/>
<line x1="781.1" y1="917.1" x2="776.7" y2="956.9" stroke="#28a82b" stroke-width="1.0"/>
<line x1="876.3" y1="996.3" x2="978.0" y2="1008.7" stroke="#28a82b" stroke-width="0.9"/>
<line x1="926.1" y1="1006.1" x2="862.0" y2="990.8" stroke="#28a82b" stroke-width="1.0"/>
<line x1="925.5" y1="936.1" x2="869.7" y2="929.5" stroke="#28a82b" stroke-width="1.9"/>
<line x1="926.1" y1="1006.1" x2="1206.6" y2="947.7" stroke="#28a82b" stroke-width="1.5"/>
<line x1="925.5" y1="936.1" x2="863.1" y2="924.1" stroke="#28a82b" stroke-width="1.4"/>
<line x1="822.7" y1="963.9" x2="834.7" y2="932.8" stroke="#1e7a3a" stroke-width="0.9"/>
<line x1="760.3" y1="991.9" x2="776.7" y2="956.9" stroke="#28a82b" stroke-width="1.4"/>
<line x1="831.4" y1="1025.8" x2="925.5" y2="936.1" stroke="#28a82b" stroke-width="1.1"/>
<line x1="821.6" y1="1013.3" x2="925.5" y2="936.1" stroke="#28a82b" stroke-width="1.1"/>
<line x1="873.0" y1="1049.2" x2="926.1" y2="1006.1" stroke="#28a82b" stroke-width="1.3"/>
<line x1="925.5" y1="936.1" x2="775.6" y2="970.0" stroke="#28a82b" stroke-width="1.4"/>
<line x1="760.3" y1="991.9" x2="1163.9" y2="979.9" stroke="#3fb43f" stroke-width="1.0"/>
<line x1="760.3" y1="991.9" x2="1156.3" y2="963.9" stroke="#3fb43f" stroke-width="1.0"/>
<line x1="926.1" y1="1006.1" x2="908.0" y2="955.8" stroke="#28a82b" stroke-width="1.5"/>
<line x1="925.5" y1="936.1" x2="1145.4" y2="954.7" stroke="#28a82b" stroke-width="1.1"/>
<line x1="926.1" y1="1006.1" x2="1156.3" y2="963.9" stroke="#28a82b" stroke-width="2.0"/>
<line x1="760.3" y1="991.9" x2="822.7" y2="963.9" stroke="#28a82b" stroke-width="1.4"/>
<line x1="925.5" y1="936.1" x2="862.0" y2="990.8" stroke="#28a82b" stroke-width="1.0"/>
<line x1="925.5" y1="936.1" x2="976.9" y2="964.5" stroke="#28a82b" stroke-width="2.0"/>
<line x1="846.7" y1="963.0" x2="893.8" y2="963.9" stroke="#2c3fa8" stroke-width="1.2"/>
<line x1="978.0" y1="1008.7" x2="1156.3" y2="963.9" stroke="#2c3fa8" stroke-width="1.3"/>
<line x1="804.1" y1="980.9" x2="908.0" y2="982.7" stroke="#28a82b" stroke-width="1.2"/>
<line x1="833.6" y1="1040.0" x2="873.0" y2="1049.2" stroke="#2c3fa8" stroke-width="1.0"/>
<line x1="862.0" y1="990.8" x2="983.5" y2="939.4" stroke="#1e7a3a" stroke-width="0.9"/>
<line x1="925.5" y1="936.1" x2="864.2" y2="971.1" stroke="#28a82b" stroke-width="1.0"/>
<line x1="926.1" y1="1006.1" x2="843.4" y2="987.1" stroke="#28a82b" stroke-width="1.5"/>
<line x1="955.0" y1="947.0" x2="1177.1" y2="974.4" stroke="#2c3fa8" stroke-width="0.9"/>
<line x1="978.0" y1="1008.7" x2="1064.4" y2="1025.8" stroke="#28a82b" stroke-width="1.2"/>
<line x1="760.3" y1="991.9" x2="868.6" y2="1007.6" stroke="#28a82b" stroke-width="1.4"/>
<line x1="1064.4" y1="1025.8" x2="1097.2" y2="984.9" stroke="#b9aca2" stroke-width="0.9"/>
<line x1="925.5" y1="936.1" x2="908.0" y2="955.8" stroke="#28a82b" stroke-width="1.9"/>
<line x1="925.5" y1="936.1" x2="1041.4" y2="982.7" stroke="#28a82b" stroke-width="2.0"/>
<line x1="775.6" y1="970.0" x2="1026.1" y2="939.4" stroke="#28a82b" stroke-width="0.9"/>
<line x1="1177.1" y1="974.4" x2="1163.9" y2="979.9" stroke="#28a82b" stroke-width="0.9"/>
<line x1="926.1" y1="1006.1" x2="1163.9" y2="979.9" stroke="#28a82b" stroke-width="2.0"/>
<line x1="983.5" y1="939.4" x2="1145.4" y2="954.7" stroke="#2c3fa8" stroke-width="1.3"/>
<line x1="821.6" y1="1013.3" x2="926.1" y2="1006.1" stroke="#28a82b" stroke-width="1.3"/>
<line x1="873.0" y1="1049.2" x2="978.0" y2="1008.7" stroke="#28a82b" stroke-width="1.2"/>
<line x1="966.0" y1="1049.2" x2="1097.2" y2="984.9" stroke="#b9aca2" stroke-width="0.9"/>
<line x1="850.0" y1="1019.2" x2="926.1" y2="1006.1" stroke="#28a82b" stroke-width="1.3"/>
<line x1="850.0" y1="1019.2" x2="760.3" y2="991.9" stroke="#28a82b" stroke-width="1.1"/>
<line x1="925.5" y1="936.1" x2="1026.1" y2="939.4" stroke="#28a82b" stroke-width="1.1"/>
<line x1="925.5" y1="936.1" x2="846.7" y2="963.0" stroke="#28a82b" stroke-width="1.4"/>
<line x1="925.5" y1="936.1" x2="776.7" y2="956.9" stroke="#28a82b" stroke-width="1.4"/>
<line x1="926.1" y1="1006.1" x2="957.2" y2="976.1" stroke="#28a82b" stroke-width="1.1"/>
<line x1="926.1" y1="1006.1" x2="983.5" y2="939.4" stroke="#28a82b" stroke-width="2.0"/>
<line x1="823.8" y1="943.8" x2="841.3" y2="927.3" stroke="#28a82b" stroke-width="1.2"/>
<line x1="966.0" y1="1049.2" x2="926.1" y2="1006.1" stroke="#2c3fa8" stroke-width="1.3"/>
<line x1="926.1" y1="1006.1" x2="1064.4" y2="1025.8" stroke="#28a82b" stroke-width="1.1"/>
<line x1="760.3" y1="991.9" x2="1177.1" y2="974.4" stroke="#3fb43f" stroke-width="1.0"/>
<line x1="831.4" y1="1025.8" x2="926.1" y2="1006.1" stroke="#28a82b" stroke-width="1.3"/>
<line x1="843.4" y1="987.1" x2="863.1" y2="924.1" stroke="#28a82b" stroke-width="1.2"/>
<line x1="1145.4" y1="954.7" x2="1156.3" y2="963.9" stroke="#28a82b" stroke-width="0.9"/>
<line x1="760.3" y1="991.9" x2="908.0" y2="955.8" stroke="#28a82b" stroke-width="1.0"/>
<line x1="1255.8" y1="961.9" x2="976.9" y2="964.5" stroke="#2c3fa8" stroke-width="1.2"/>
<line x1="926.1" y1="1006.1" x2="976.9" y2="964.5" stroke="#28a82b" stroke-width="1.5"/>
<line x1="926.1" y1="1006.1" x2="1013.0" y2="1017.0" stroke="#28a82b" stroke-width="1.1"/>
<line x1="862.0" y1="990.8" x2="887.2" y2="933.9" stroke="#28a82b" stroke-width="0.9"/>
<line x1="1013.0" y1="1017.0" x2="1097.2" y2="987.5" stroke="#c2b4b4" stroke-width="0.9"/>
<line x1="1255.8" y1="961.9" x2="1177.1" y2="974.4" stroke="#28a82b" stroke-width="0.9"/>
<line x1="925.5" y1="936.1" x2="822.7" y2="963.9" stroke="#28a82b" stroke-width="1.4"/>
<line x1="841.3" y1="927.3" x2="822.7" y2="963.9" stroke="#28a82b" stroke-width="1.2"/>
<line x1="1181.4" y1="927.3" x2="1026.1" y2="939.4" stroke="#2c3fa8" stroke-width="1.5"/>
<line x1="765.8" y1="996.3" x2="887.2" y2="933.9" stroke="#28a82b" stroke-width="0.9"/>
<line x1="862.0" y1="990.8" x2="834.7" y2="932.8" stroke="#1e7a3a" stroke-width="0.9"/>
<line x1="926.1" y1="1006.1" x2="845.6" y2="1007.6" stroke="#28a82b" stroke-width="1.5"/>
<line x1="781.1" y1="917.1" x2="775.6" y2="970.0" stroke="#28a82b" stroke-width="1.0"/>
<line x1="863.1" y1="924.1" x2="887.2" y2="933.9" stroke="#1e7a3a" stroke-width="1.2"/>
<line x1="926.1" y1="1006.1" x2="1255.8" y2="961.9" stroke="#28a82b" stroke-width="1.5"/>
<line x1="925.5" y1="936.1" x2="955.0" y2="947.0" stroke="#28a82b" stroke-width="1.1"/>
<line x1="864.2" y1="971.1" x2="1126.8" y2="918.6" stroke="#2c3fa8" stroke-width="1.1"/>
<line x1="781.1" y1="917.1" x2="823.8" y2="943.8" stroke="#28a82b" stroke-width="1.0"/>
<line x1="926.1" y1="1006.1" x2="893.8" y2="963.9" stroke="#28a82b" stroke-width="1.5"/>
<line x1="873.0" y1="1049.2" x2="925.5" y2="936.1" stroke="#2c3fa8" stroke-width="1.4"/>
<line x1="760.3" y1="991.9" x2="1181.4" y2="927.3" stroke="#3fb43f" stroke-width="1.0"/>
<line x1="873.0" y1="1049.2" x2="966.0" y2="1049.2" stroke="#28a82b" stroke-width="1.0"/>
<line x1="781.1" y1="917.1" x2="869.7" y2="929.5" stroke="#28a82b" stroke-width="1.0"/>
<line x1="760.3" y1="991.9" x2="869.7" y2="929.5" stroke="#28a82b" stroke-width="1.4"/>
<line x1="864.2" y1="971.1" x2="1013.0" y2="1017.0" stroke="#28a82b" stroke-width="0.9"/>
<line x1="1255.8" y1="961.9" x2="957.2" y2="976.1" stroke="#2c3fa8" stroke-width="1.4"/>
<line x1="925.5" y1="936.1" x2="876.3" y2="996.3" stroke="#28a82b" stroke-width="1.0"/>
<line x1="781.1" y1="917.1" x2="841.3" y2="927.3" stroke="#28a82b" stroke-width="1.0"/>
<line x1="760.3" y1="991.9" x2="863.1" y2="924.1" stroke="#28a82b" stroke-width="1.0"/>
<line x1="833.6" y1="1040.0" x2="873.0" y2="1049.2" stroke="#2c3fa8" stroke-width="1.0"/>
<line x1="850.0" y1="1019.2" x2="925.5" y2="936.1" stroke="#28a82b" stroke-width="1.1"/>
<line x1="1097.2" y1="984.9" x2="1041.4" y2="982.7" stroke="#28a82b" stroke-width="0.9"/>
<line x1="1163.9" y1="979.9" x2="1145.4" y2="954.7" stroke="#28a82b" stroke-width="0.9"/>
<line x1="925.5" y1="936.1" x2="983.5" y2="939.4" stroke="#28a82b" stroke-width="2.0"/>
<line x1="908.0" y1="955.8" x2="887.2" y2="933.9" stroke="#28a82b" stroke-width="0.9"/>
<line x1="925.5" y1="936.1" x2="1013.0" y2="1017.0" stroke="#28a82b" stroke-width="1.5"/>
<line x1="760.3" y1="991.9" x2="869.7" y2="945.9" stroke="#28a82b" stroke-width="1.0"/>
<line x1="760.3" y1="991.9" x2="862.0" y2="990.8" stroke="#28a82b" stroke-width="1.0"/>
<line x1="966.0" y1="1049.2" x2="908.0" y2="982.7" stroke="#28a82b" stroke-width="1.0"/>
<line x1="1126.8" y1="918.6" x2="1181.4" y2="927.3" stroke="#b9aca2" stroke-width="0.9"/>
<line x1="925.5" y1="936.1" x2="834.7" y2="932.8" stroke="#28a82b" stroke-width="1.0"/>
<line x1="925.5" y1="936.1" x2="1163.9" y2="979.9" stroke="#28a82b" stroke-width="2.0"/>
<line x1="893.8" y1="963.9" x2="1064.4" y2="1025.8" stroke="#2c3fa8" stroke-width="0.9"/>
<line x1="925.5" y1="936.1" x2="1255.8" y2="961.9" stroke="#28a82b" stroke-width="1.5"/>
<line x1="760.3" y1="991.9" x2="1145.4" y2="954.7" stroke="#3fb43f" stroke-width="1.0"/>
<line x1="781.1" y1="917.1" x2="760.3" y2="991.9" stroke="#28a82b" stroke-width="1.2"/>
<line x1="925.5" y1="936.1" x2="1126.8" y2="918.6" stroke="#28a82b" stroke-width="1.5"/>
<line x1="926.1" y1="1006.1" x2="887.2" y2="933.9" stroke="#28a82b" stroke-width="1.0"/>
<line x1="925.5" y1="936.1" x2="978.0" y2="1008.7" stroke="#28a82b" stroke-width="1.5"/>
<line x1="760.3" y1="991.9" x2="823.8" y2="943.8" stroke="#28a82b" stroke-width="1.4"/>
<line x1="887.2" y1="933.9" x2="1013.0" y2="1017.0" stroke="#28a82b" stroke-width="0.9"/>
<line x1="1206.6" y1="947.7" x2="1255.8" y2="961.9" stroke="#b9aca2" stroke-width="0.9"/>
<line x1="925.5" y1="936.1" x2="887.2" y2="933.9" stroke="#28a82b" stroke-width="1.9"/>
<line x1="925.5" y1="936.1" x2="869.7" y2="945.9" stroke="#28a82b" stroke-width="1.0"/>
<line x1="926.1" y1="1006.1" x2="955.0" y2="947.0" stroke="#28a82b" stroke-width="1.1"/>
<line x1="834.7" y1="932.8" x2="846.7" y2="963.0" stroke="#1e7a3a" stroke-width="1.2"/>
<line x1="908.0" y1="982.7" x2="1126.8" y2="918.6" stroke="#2c3fa8" stroke-width="1.3"/>
<line x1="781.1" y1="917.1" x2="827.0" y2="950.3" stroke="#28a82b" stroke-width="1.0"/>
<line x1="925.5" y1="936.1" x2="957.2" y2="976.1" stroke="#28a82b" stroke-width="2.0"/>
<line x1="760.3" y1="991.9" x2="845.6" y2="1007.6" stroke="#28a82b" stroke-width="1.0"/>
<line x1="760.3" y1="991.9" x2="775.6" y2="970.0" stroke="#28a82b" stroke-width="1.4"/>
<line x1="760.3" y1="991.9" x2="806.3" y2="932.8" stroke="#28a82b" stroke-width="1.4"/>
<line x1="925.5" y1="936.1" x2="819.4" y2="985.3" stroke="#28a82b" stroke-width="1.9"/>
<line x1="827.0" y1="950.3" x2="1026.1" y2="939.4" stroke="#28a82b" stroke-width="1.2"/>
<line x1="1206.6" y1="947.7" x2="976.9" y2="964.5" stroke="#2c3fa8" stroke-width="1.2"/>
<line x1="781.1" y1="917.1" x2="926.1" y2="1006.1" stroke="#1e7a3a" stroke-width="1.0"/>
<line x1="760.3" y1="991.9" x2="1126.8" y2="918.6" stroke="#3fb43f" stroke-width="1.0"/>
<line x1="926.1" y1="1006.1" x2="869.7" y2="945.9" stroke="#28a82b" stroke-width="1.0"/>
<line x1="833.6" y1="1040.0" x2="925.5" y2="936.1" stroke="#1e7a3a" stroke-width="1.1"/>
<line x1="925.5" y1="936.1" x2="1181.4" y2="927.3" stroke="#2c3fa8" stroke-width="1.1"/>
<line x1="925.5" y1="936.1" x2="841.3" y2="927.3" stroke="#28a82b" stroke-width="1.9"/>
<line x1="862.0" y1="990.8" x2="957.2" y2="976.1" stroke="#28a82b" stroke-width="0.9"/>
<line x1="781.1" y1="917.1" x2="775.6" y2="970.0" stroke="#28a82b" stroke-width="1.0"/>
<line x1="1013.0" y1="1017.0" x2="926.1" y2="1006.1" stroke="#28a82b" stroke-width="1.5"/>
<line x1="831.4" y1="1025.8" x2="760.3" y2="991.9" stroke="#28a82b" stroke-width="1.1"/>
<line x1="833.6" y1="1040.0" x2="926.1" y2="1006.1" stroke="#28a82b" stroke-width="1.3"/>
<line x1="926.1" y1="1006.1" x2="932.0" y2="957.3" stroke="#28a82b" stroke-width="2.0"/>
<line x1="843.4" y1="987.1" x2="1206.6" y2="947.7" stroke="#2c3fa8" stroke-width="0.9"/>
<line x1="926.1" y1="1006.1" x2="978.0" y2="1008.7" stroke="#28a82b" stroke-width="1.1"/>
<line x1="760.3" y1="991.9" x2="864.2" y2="971.1" stroke="#28a82b" stroke-width="1.0"/>
<line x1="819.4" y1="985.3" x2="1126.8" y2="918.6" stroke="#2c3fa8" stroke-width="1.1"/>
<line x1="760.3" y1="991.9" x2="1206.6" y2="947.7" stroke="#3fb43f" stroke-width="1.0"/>
<line x1="925.5" y1="936.1" x2="1106.0" y2="963.4" stroke="#28a82b" stroke-width="2.0"/>
<line x1="925.5" y1="936.1" x2="845.6" y2="1007.6" stroke="#28a82b" stroke-width="1.9"/>
<line x1="925.5" y1="936.1" x2="1064.4" y2="1025.8" stroke="#28a82b" stroke-width="1.1"/>
<line x1="760.3" y1="991.9" x2="841.3" y2="927.3" stroke="#28a82b" stroke-width="1.0"/>
<line x1="925.5" y1="936.1" x2="1156.3" y2="963.9" stroke="#28a82b" stroke-width="1.1"/>
<line x1="781.1" y1="917.1" x2="869.7" y2="945.9" stroke="#28a82b" stroke-width="1.0"/>
<line x1="760.3" y1="991.9" x2="827.0" y2="950.3" stroke="#28a82b" stroke-width="1.4"/>
<line x1="926.1" y1="1006.1" x2="876.3" y2="996.3" stroke="#28a82b" stroke-width="1.5"/>
<line x1="955.0" y1="947.0" x2="1163.9" y2="979.9" stroke="#2c3fa8" stroke-width="0.9"/>
<line x1="765.8" y1="996.3" x2="862.0" y2="990.8" stroke="#28a82b" stroke-width="0.9"/>
<line x1="925.5" y1="936.1" x2="868.6" y2="1007.6" stroke="#28a82b" stroke-width="1.0"/>
<line x1="957.2" y1="976.1" x2="1126.8" y2="918.6" stroke="#2c3fa8" stroke-width="1.3"/>
<line x1="926.1" y1="1006.1" x2="1126.8" y2="918.6" stroke="#28a82b" stroke-width="1.1"/>
<line x1="781.1" y1="917.1" x2="776.7" y2="956.9" stroke="#28a82b" stroke-width="1.1"/>
<line x1="925.5" y1="936.1" x2="893.8" y2="963.9" stroke="#28a82b" stroke-width="1.0"/>
<line x1="925.5" y1="936.1" x2="1177.1" y2="974.4" stroke="#28a82b" stroke-width="2.0"/>
<line x1="926.1" y1="1006.1" x2="834.7" y2="932.8" stroke="#28a82b" stroke-width="1.0"/>
<line x1="926.1" y1="1006.1" x2="822.7" y2="963.9" stroke="#28a82b" stroke-width="1.5"/>
<line x1="1106.0" y1="963.4" x2="1097.2" y2="984.9" stroke="#28a82b" stroke-width="0.9"/>
<line x1="926.1" y1="1006.1" x2="775.6" y2="970.0" stroke="#28a82b" stroke-width="1.0"/>
<line x1="775.6" y1="970.0" x2="1013.0" y2="1017.0" stroke="#1e7a3a" stroke-width="0.9"/>
<line x1="827.0" y1="950.3" x2="827.0" y2="950.3" stroke="#1e7a3a" stroke-width="1.2"/>
<line x1="760.3" y1="991.9" x2="887.2" y2="933.9" stroke="#28a82b" stroke-width="1.0"/>
<line x1="925.5" y1="936.1" x2="806.3" y2="932.8" stroke="#28a82b" stroke-width="1.9"/>
<line x1="926.1" y1="1006.1" x2="1041.4" y2="982.7" stroke="#28a82b" stroke-width="1.1"/>
<line x1="760.3" y1="991.9" x2="831.4" y2="1025.8" stroke="#2c3fa8" stroke-width="1.0"/>
<line x1="926.1" y1="1006.1" x2="1177.1" y2="974.4" stroke="#28a82b" stroke-width="2.0"/>
<line x1="760.3" y1="991.9" x2="1041.4" y2="982.7" stroke="#3fb43f" stroke-width="1.0"/>
<line x1="862.0" y1="990.8" x2="834.7" y2="932.8" stroke="#1e7a3a" stroke-width="0.9"/>
<line x1="760.3" y1="991.9" x2="846.7" y2="963.0" stroke="#28a82b" stroke-width="1.0"/>
<line x1="781.1" y1="917.1" x2="863.1" y2="924.1" stroke="#28a82b" stroke-width="1.0"/>
<line x1="926.1" y1="1006.1" x2="864.2" y2="971.1" stroke="#28a82b" stroke-width="1.0"/>
<line x1="804.1" y1="980.9" x2="1181.4" y2="927.3" stroke="#2c3fa8" stroke-width="1.1"/>
<line x1="1156.3" y1="963.9" x2="1106.0" y2="963.4" stroke="#28a82b" stroke-width="0.9"/>
<line x1="821.6" y1="1013.3" x2="760.3" y2="991.9" stroke="#2c3fa8" stroke-width="1.1"/>
<line x1="966.0" y1="1049.2" x2="925.5" y2="936.1" stroke="#1e7a3a" stroke-width="1.1"/>
<line x1="760.3" y1="991.9" x2="819.4" y2="985.3" stroke="#28a82b" stroke-width="1.4"/>
<line x1="925.5" y1="936.1" x2="1181.4" y2="927.3" stroke="#28a82b" stroke-width="2.0"/>
<line x1="1064.4" y1="1025.8" x2="926.1" y2="1006.1" stroke="#28a82b" stroke-width="1.2"/>
<line x1="1181.4" y1="927.3" x2="1206.6" y2="947.7" stroke="#b9aca2" stroke-width="0.9"/>
<line x1="781.1" y1="917.1" x2="806.3" y2="932.8" stroke="#28a82b" stroke-width="1.0"/>
<line x1="925.5" y1="936.1" x2="765.8" y2="996.3" stroke="#28a82b" stroke-width="1.0"/>
<line x1="926.1" y1="1006.1" x2="1026.1" y2="939.4" stroke="#28a82b" stroke-width="1.1"/>
<line x1="760.3" y1="991.9" x2="843.4" y2="987.1" stroke="#28a82b" stroke-width="1.4"/>
<line x1="864.2" y1="971.1" x2="841.3" y2="927.3" stroke="#1e7a3a" stroke-width="0.9"/>
<line x1="760.3" y1="991.9" x2="876.3" y2="996.3" stroke="#28a82b" stroke-width="1.0"/>
<line x1="926.1" y1="1006.1" x2="1181.4" y2="927.3" stroke="#28a82b" stroke-width="2.0"/>
<line x1="925.5" y1="936.1" x2="1177.1" y2="974.4" stroke="#2c3fa8" stroke-width="1.3"/>
<line x1="862.0" y1="990.8" x2="887.2" y2="933.9" stroke="#1e7a3a" stroke-width="0.9"/>
<line x1="925.5" y1="936.1" x2="843.4" y2="987.1" stroke="#28a82b" stroke-width="1.0"/>
<line x1="926.1" y1="1006.1" x2="908.0" y2="982.7" stroke="#28a82b" stroke-width="1.5"/>
<line x1="1126.8" y1="918.6" x2="1026.1" y2="939.4" stroke="#2c3fa8" stroke-width="1.5"/>
<line x1="1013.0" y1="1017.0" x2="1064.4" y2="1025.8" stroke="#1e7a3a" stroke-width="1.1"/>
<line x1="781.1" y1="917.1" x2="925.5" y2="936.1" stroke="#28a82b" stroke-width="1.4"/>
<line x1="833.6" y1="1040.0" x2="760.3" y2="991.9" stroke="#2c3fa8" stroke-width="1.1"/>
<line x1="822.7" y1="963.9" x2="862.0" y2="990.8" stroke="#28a82b" stroke-width="0.9"/>
<line x1="966.0" y1="1049.2" x2="926.1" y2="1006.1" stroke="#28a82b" stroke-width="1.3"/>
<line x1="760.3" y1="991.9" x2="893.8" y2="963.9" stroke="#28a82b" stroke-width="1.0"/>
<line x1="819.4" y1="985.3" x2="1206.6" y2="947.7" stroke="#2c3fa8" stroke-width="0.9"/>
<line x1="925.5" y1="936.1" x2="823.8" y2="943.8" stroke="#28a82b" stroke-width="1.0"/>
<line x1="926.1" y1="1006.1" x2="841.3" y2="927.3" stroke="#28a82b" stroke-width="1.0"/>
<line x1="1181.4" y1="927.3" x2="976.9" y2="964.5" stroke="#2c3fa8" stroke-width="1.3"/>
<line x1="925.5" y1="936.1" x2="1097.2" y2="984.9" stroke="#28a82b" stroke-width="1.5"/>
<line x1="1126.8" y1="918.6" x2="983.5" y2="939.4" stroke="#28a82b" stroke-width="1.3"/>
<line x1="873.0" y1="1049.2" x2="760.3" y2="991.9" stroke="#28a82b" stroke-width="1.1"/>
<line x1="781.1" y1="917.1" x2="887.2" y2="933.9" stroke="#28a82b" stroke-width="1.0"/>
<line x1="869.7" y1="945.9" x2="806.3" y2="932.8" stroke="#28a82b" stroke-width="1.2"/>
<line x1="925.5" y1="936.1" x2="1206.6" y2="947.7" stroke="#28a82b" stroke-width="1.5"/>
<line x1="765.8" y1="996.3" x2="863.1" y2="924.1" stroke="#28a82b" stroke-width="1.2"/>
<line x1="760.3" y1="991.9" x2="1255.8" y2="961.9" stroke="#3fb43f" stroke-width="1.0"/>
<line x1="760.3" y1="991.9" x2="834.7" y2="932.8" stroke="#28a82b" stroke-width="1.4"/>
<line x1="781.1" y1="917.1" x2="834.7" y2="932.8" stroke="#28a82b" stroke-width="1.0"/>
<line x1="868.6" y1="1007.6" x2="1177.1" y2="974.4" stroke="#2c3fa8" stroke-width="1.3"/>
<line x1="760.3" y1="991.9" x2="1097.2" y2="984.9" stroke="#3fb43f" stroke-width="1.0"/>
<line x1="760.3" y1="991.9" x2="1106.0" y2="963.4" stroke="#3fb43f" stroke-width="1.0"/>
<line x1="804.1" y1="980.9" x2="869.7" y2="945.9" stroke="#28a82b" stroke-width="1.2"/>
<line x1="925.5" y1="936.1" x2="908.0" y2="982.7" stroke="#28a82b" stroke-width="2.0"/>
<line x1="760.3" y1="991.9" x2="804.1" y2="980.9" stroke="#28a82b" stroke-width="1.0"/>
<line x1="845.6" y1="1007.6" x2="1156.3" y2="963.9" stroke="#2c3fa8" stroke-width="1.1"/>
<line x1="760.3" y1="991.9" x2="833.6" y2="1040.0" stroke="#2c3fa8" stroke-width="1.3"/>
<line x1="869.7" y1="929.5" x2="823.8" y2="943.8" stroke="#28a82b" stroke-width="1.2"/>
<line x1="873.0" y1="1049.2" x2="925.5" y2="936.1" stroke="#1e7a3a" stroke-width="1.1"/>
<line x1="873.0" y1="1049.2" x2="833.6" y2="1040.0" stroke="#b9aca2" stroke-width="0.8"/>
<line x1="926.1" y1="1006.1" x2="1145.4" y2="954.7" stroke="#28a82b" stroke-width="2.0"/>
<line x1="760.3" y1="991.9" x2="765.8" y2="996.3" stroke="#28a82b" stroke-width="1.0"/>
<line x1="926.1" y1="1006.1" x2="1106.0" y2="963.4" stroke="#28a82b" stroke-width="1.1"/>
<line x1="1064.4" y1="1025.8" x2="1041.4" y2="982.7" stroke="#28a82b" stroke-width="1.0"/>
</g>
<rect x="923.7" y="934.3" width="3.6" height="3.6" fill="#ddd48a"/>
<rect x="758.5" y="990.1" width="3.6" height="3.6" fill="#ddd48a"/>
<rect x="924.3" y="1004.3" width="3.6" height="3.6" fill="#ddd48a"/>
<rect x="779.3" y="915.3" width="3.6" height="3.6" fill="#ddd48a"/>
<rect x="831.8" y="1038.2" width="3.6" height="3.6" fill="#ddd48a"/>
<rect x="871.2" y="1047.4" width="3.6" height="3.6" fill="#ddd48a"/>
<rect x="964.2" y="1047.4" width="3.6" height="3.6" fill="#ddd48a"/>
<rect x="829.6" y="1024.0" width="3.6" height="3.6" fill="#ddd48a"/>
<rect x="819.8" y="1011.5" width="3.6" height="3.6" fill="#ddd48a"/>
<rect x="848.2" y="1017.4" width="3.6" height="3.6" fill="#ddd48a"/>
<rect x="1125.0" y="916.8" width="3.6" height="3.6" fill="#ddd48a"/>
<rect x="1179.6" y="925.5" width="3.6" height="3.6" fill="#ddd48a"/>
<rect x="1204.8" y="945.9" width="3.6" height="3.6" fill="#ddd48a"/>
<rect x="1254.0" y="960.1" width="3.6" height="3.6" fill="#ddd48a"/>
<rect x="1175.3" y="972.6" width="3.6" height="3.6" fill="#ddd48a"/>
<rect x="1162.1" y="978.1" width="3.6" height="3.6" fill="#ddd48a"/>
<rect x="1143.6" y="952.9" width="3.6" height="3.6" fill="#ddd48a"/>
<rect x="1154.5" y="962.1" width="3.6" height="3.6" fill="#ddd48a"/>
<rect x="1104.2" y="961.6" width="3.6" height="3.6" fill="#ddd48a"/>
<rect x="1095.4" y="983.1" width="3.6" height="3.6" fill="#ddd48a"/>
<rect x="1039.6" y="980.9" width="3.6" height="3.6" fill="#ddd48a"/>
<rect x="981.7" y="937.6" width="3.6" height="3.6" fill="#ddd48a"/>
<rect x="1024.3" y="937.6" width="3.6" height="3.6" fill="#ddd48a"/>
<rect x="953.2" y="945.2" width="3.6" height="3.6" fill="#ddd48a"/>
<rect x="976.2" y="1006.9" width="3.6" height="3.6" fill="#ddd48a"/>
<rect x="1011.2" y="1015.2" width="3.6" height="3.6" fill="#ddd48a"/>
<rect x="1062.6" y="1024.0" width="3.6" height="3.6" fill="#ddd48a"/>
<rect x="930.2" y="955.5" width="3.6" height="3.6" fill="#ddd48a"/>
<rect x="955.4" y="974.3" width="3.6" height="3.6" fill="#ddd48a"/>
<rect x="906.2" y="980.9" width="3.6" height="3.6" fill="#ddd48a"/>
<rect x="975.1" y="962.7" width="3.6" height="3.6" fill="#ddd48a"/>
<rect x="804.5" y="931.0" width="3.6" height="3.6" fill="#ddd48a"/>
<rect x="839.5" y="925.5" width="3.6" height="3.6" fill="#ddd48a"/>
<rect x="861.3" y="922.3" width="3.6" height="3.6" fill="#ddd48a"/>
<rect x="867.9" y="927.7" width="3.6" height="3.6" fill="#ddd48a"/>
<rect x="885.4" y="932.1" width="3.6" height="3.6" fill="#ddd48a"/>
<rect x="832.9" y="931.0" width="3.6" height="3.6" fill="#ddd48a"/>
<rect x="822.0" y="942.0" width="3.6" height="3.6" fill="#ddd48a"/>
<rect x="825.2" y="948.5" width="3.6" height="3.6" fill="#ddd48a"/>
<rect x="867.9" y="944.1" width="3.6" height="3.6" fill="#ddd48a"/>
<rect x="774.9" y="955.1" width="3.6" height="3.6" fill="#ddd48a"/>
<rect x="773.8" y="968.2" width="3.6" height="3.6" fill="#ddd48a"/>
<rect x="820.9" y="962.1" width="3.6" height="3.6" fill="#ddd48a"/>
<rect x="844.9" y="961.2" width="3.6" height="3.6" fill="#ddd48a"/>
<rect x="862.4" y="969.3" width="3.6" height="3.6" fill="#ddd48a"/>
<rect x="892.0" y="962.1" width="3.6" height="3.6" fill="#ddd48a"/>
<rect x="906.2" y="954.0" width="3.6" height="3.6" fill="#ddd48a"/>
<rect x="802.3" y="979.1" width="3.6" height="3.6" fill="#ddd48a"/>
<rect x="817.6" y="983.5" width="3.6" height="3.6" fill="#ddd48a"/>
<rect x="841.6" y="985.3" width="3.6" height="3.6" fill="#ddd48a"/>
<rect x="860.2" y="989.0" width="3.6" height="3.6" fill="#ddd48a"/>
<rect x="874.5" y="994.5" width="3.6" height="3.6" fill="#ddd48a"/>
<rect x="843.8" y="1005.8" width="3.6" height="3.6" fill="#ddd48a"/>
<rect x="866.8" y="1005.8" width="3.6" height="3.6" fill="#ddd48a"/>
<rect x="764.0" y="994.5" width="3.6" height="3.6" fill="#ddd48a"/>
<rect x="758.2" y="989.8" width="4.2" height="4.2" fill="#a08a4a"/>
<rect x="779.0" y="915.0" width="4.2" height="4.2" fill="#a08a4a"/>
<rect x="763.7" y="994.2" width="4.2" height="4.2" fill="#a08a4a"/>
<rect x="831.5" y="1037.9" width="4.2" height="4.2" fill="#a08a4a"/>
<rect x="1124.7" y="916.5" width="4.2" height="4.2" fill="#a08a4a"/>
<rect x="1179.3" y="925.2" width="4.2" height="4.2" fill="#a08a4a"/>
<rect x="1204.5" y="945.6" width="4.2" height="4.2" fill="#a08a4a"/>
<rect x="1253.7" y="959.8" width="4.2" height="4.2" fill="#a08a4a"/>
<rect x="1175.0" y="972.3" width="4.2" height="4.2" fill="#a08a4a"/>
<rect x="1161.8" y="977.8" width="4.2" height="4.2" fill="#a08a4a"/>
<line x1="733" y1="171.3" x2="733" y2="1244.5" stroke="#b28b2d" stroke-width="4.6" stroke-dasharray="17.6 12.54"/>
<line x1="1281" y1="171.3" x2="1281" y2="1244.5" stroke="#b28b2d" stroke-width="4.6" stroke-dasharray="17.6 12.54"/>
</svg>
<div class="t" style="left:117.3px;top:32.6px;font-size:97.4px;line-height:97.4px;transform:scaleX(0.9892);color:#1c587c;-webkit-text-stroke:1.6px #ebebeb;">IP and Optical Networks Today</div>
<div class="t" style="left:39.7px;top:691.5px;font-size:64.8px;line-height:64.8px;color:#27466f;-webkit-text-stroke:0.5px #27466f;transform-origin:0 0;transform:rotate(-90deg) scaleX(0.9438);">IP Routing Layer</div>
<div class="t" style="left:40.6px;top:1183.6px;font-size:65.4px;line-height:65.4px;color:#27466f;-webkit-text-stroke:0.5px #27466f;transform-origin:0 0;transform:rotate(-90deg) scaleX(0.9478);">Optical Layer</div>
<div class="t" style="left:1995.7px;top:160.1px;font-size:38.8px;line-height:38.8px;transform:scaleX(0.9786);color:#eaf1fa;">Services</div>
<div class="t" style="left:1995.3px;top:226.2px;font-size:38.7px;line-height:38.7px;transform:scaleX(1.0589);color:#2b2b2b;">Business</div>
<div class="t" style="left:1956.9px;top:270.6px;font-size:36.9px;line-height:36.9px;transform:scaleX(0.9603);color:#2b2b2b;">L3VPN, L2VPN</div>
<div class="t" style="left:1977.2px;top:357.4px;font-size:39.2px;line-height:39.2px;transform:scaleX(1.0463);color:#2b2b2b;">Residential</div>
<div class="t" style="left:1872.6px;top:402.9px;font-size:36.6px;line-height:36.6px;transform:scaleX(0.9884);color:#2b2b2b;">Highspeed Internet, IPTV,</div>
<div class="t" style="left:1960.8px;top:446.1px;font-size:36.9px;line-height:36.9px;transform:scaleX(0.9846);color:#2b2b2b;">Voice, Content</div>
<div class="t" style="left:2016.0px;top:532.5px;font-size:38.8px;line-height:38.8px;transform:scaleX(1.0965);color:#2b2b2b;">Mobile</div>
<div class="t" style="left:1900.5px;top:578.0px;font-size:37.8px;line-height:37.8px;transform:scaleX(0.9356);color:#2b2b2b;">eMBB, URLLC, MMTC</div>
<div class="t" style="left:1874.0px;top:662.3px;font-size:37.8px;line-height:37.8px;transform:scaleX(0.9544);color:#2b2b2b;">Smart Cities, IoT, Gaming</div>
<div class="t" style="left:1933.1px;top:706.5px;font-size:41.6px;line-height:41.6px;transform:scaleX(0.9953);color:#2b2b2b;">Peering, Transit</div>
<div class="t" style="left:1991.8px;top:796.2px;font-size:38.8px;line-height:38.8px;transform:scaleX(0.9738);color:#eaf1fa;">Services</div>
<div class="t" style="left:1927.9px;top:887.6px;font-size:40.3px;line-height:40.3px;transform:scaleX(1.0150);color:#2b2b2b;">Private Line OTN</div>
<div class="t" style="left:1898.7px;top:947.7px;font-size:39.7px;line-height:39.7px;transform:scaleX(1.0438);color:#2b2b2b;">Wavelength Services</div>
<div class="t" style="left:1971.9px;top:1017.2px;font-size:39.7px;line-height:39.7px;transform:scaleX(1.0348);color:#2b2b2b;">TDM Services</div>
<div class="t" style="left:1913.0px;top:1095.7px;font-size:41.4px;line-height:41.4px;color:#2b2b2b;">Optical Restoration</div>
<div class="t" style="left:1901.6px;top:1161.9px;font-size:41.4px;line-height:41.4px;transform:scaleX(0.9914);color:#2b2b2b;">Backup Replication</div>
<div class="t" style="left:2231.3px;top:1267.0px;font-size:18.5px;line-height:18.5px;transform:scaleX(1.2015);color:#444;">4</div>
<div class="t" style="left:1566.7px;top:1313.5px;font-size:21.8px;line-height:21.8px;transform:scaleX(0.9657);color:#3c3c3c;">© 2021  Cisco and/or its affiliates. All rights reserved.</div>
<div class="t" style="left:2076.0px;top:1313.5px;font-size:21.8px;line-height:21.8px;transform:scaleX(0.9520);color:#3c3c3c;">Cisco Public</div>
<div class="t" style="left:155.4px;top:805.9px;font-size:32.0px;line-height:32.0px;font-weight:bold;transform:scaleX(0.9949);color:#242424;">No ROADM switching due to cost</div>
<div class="t" style="left:154.7px;top:894.9px;font-size:32.0px;line-height:32.0px;transform:scaleX(1.0671);color:#2b2b2b;">Low-cost amplifier if longer distance</div>
<div class="t" style="left:157.0px;top:937.6px;font-size:32.0px;line-height:32.0px;transform:scaleX(1.0609);color:#2b2b2b;">than optics can support</div>
<div class="t" style="left:154.8px;top:1027.2px;font-size:32.0px;line-height:32.0px;transform:scaleX(1.0385);color:#2b2b2b;">Passive mux/ de-mux</div>
<div class="t" style="left:869.1px;top:800.0px;font-size:35.2px;line-height:35.2px;font-weight:bold;transform:scaleX(1.0069);color:#242424;">ROADM switching</div>
<div class="t" style="left:789.1px;top:841.1px;font-size:36.2px;line-height:36.2px;transform:scaleX(1.0417);color:#222;">Hub-and-spoke architecture</div>
<div class="t" style="left:754.1px;top:1095.8px;font-size:43.6px;line-height:43.6px;color:#2b2b2b;">Metro/ Regional &lt;1000km</div>
<div class="t" style="left:801.9px;top:1152.7px;font-size:43.6px;line-height:43.6px;transform:scaleX(0.9657);color:#2b2b2b;">Long-Haul  &gt;1000 km</div>
<div class="t" style="left:1324.0px;top:802.5px;font-size:36.2px;line-height:36.2px;font-weight:bold;transform:scaleX(0.9704);color:#242424;">DCI point-to-point traffic</div>
<div class="t" style="left:1324.0px;top:888.1px;font-size:34.9px;line-height:34.9px;transform:scaleX(1.0059);color:#2b2b2b;">&gt;1Tbps+ capacity</div>
<div class="t" style="left:1323.3px;top:929.4px;font-size:35.5px;line-height:35.5px;color:#2b2b2b;">Up to 120 km for near DR</div>
<div class="t" style="left:1324.2px;top:970.6px;font-size:35.5px;line-height:35.5px;transform:scaleX(0.9941);color:#2b2b2b;">&gt;2,500 km for far DR</div>
<div class="t" style="left:196.3px;top:252.4px;font-size:12.5px;line-height:12.5px;transform:scaleX(0.8566);color:#4c4c4c;">Smart</div>
<div class="t" style="left:189.7px;top:265.7px;font-size:12.5px;line-height:12.5px;transform:scaleX(0.9130);color:#4c4c4c;">City/IOT</div>
<div class="t" style="left:188.4px;top:363.5px;font-size:12.5px;line-height:12.5px;transform:scaleX(0.8889);color:#4c4c4c;">AR/VR/</div>
<div class="t" style="left:186.8px;top:376.7px;font-size:12.5px;line-height:12.5px;transform:scaleX(0.9210);color:#4c4c4c;">Gaming</div>
<div class="t" style="left:180.0px;top:473.9px;font-size:12.5px;line-height:12.5px;transform:scaleX(0.9653);color:#4c4c4c;">Ent/Public</div>
<div class="t" style="left:189.4px;top:487.9px;font-size:12.5px;line-height:12.5px;transform:scaleX(0.9894);color:#4c4c4c;">Sector</div>
<div class="t" style="left:176.5px;top:502.4px;font-size:12.5px;line-height:12.5px;transform:scaleX(0.9262);color:#4c4c4c;">Applications</div>
<div class="t" style="left:172.4px;top:584.6px;font-size:12.5px;line-height:12.5px;transform:scaleX(0.9273);color:#4c4c4c;">Collaboration</div>
<div class="t" style="left:185.3px;top:598.3px;font-size:12.5px;line-height:12.5px;transform:scaleX(0.8842);color:#4c4c4c;">Services</div>
<div class="t" style="left:185.7px;top:693.4px;font-size:12.5px;line-height:12.5px;transform:scaleX(0.8976);color:#4c4c4c;">Security</div>
<div class="t" style="left:184.3px;top:707.7px;font-size:12.5px;line-height:12.5px;transform:scaleX(0.9119);color:#4c4c4c;">Services</div>
<div class="t" style="left:332.8px;top:394.3px;font-size:15.4px;line-height:15.4px;transform:scaleX(0.9832);color:#3a3a3a;">DSL/PON</div>
<div class="t" style="left:339.3px;top:503.9px;font-size:15.7px;line-height:15.7px;transform:scaleX(0.9443);color:#3a3a3a;">Ethernet</div>
<div class="t" style="left:246.7px;top:542.9px;font-size:15.7px;line-height:15.7px;transform:scaleX(0.9693);color:#3a3a3a;">Residential</div>
<div class="t" style="left:237.0px;top:560.6px;font-size:15.7px;line-height:15.7px;transform:scaleX(0.9824);color:#3a3a3a;">Connectivity</div>
<div class="t" style="left:341.7px;top:618.1px;font-size:15.7px;line-height:15.7px;transform:scaleX(0.9782);color:#3a3a3a;">Business</div>
<div class="t" style="left:323.2px;top:634.9px;font-size:15.7px;line-height:15.7px;transform:scaleX(0.9777);color:#3a3a3a;">Connectivity</div>
<div class="t" style="left:537.3px;top:411.6px;font-size:16.6px;line-height:16.6px;font-weight:bold;color:#151515;">Access</div>
<div class="t" style="left:802.1px;top:404.8px;font-size:16.3px;line-height:16.3px;font-weight:bold;transform:scaleX(1.0428);color:#151515;">Aggregation</div>
<div class="t" style="left:799.0px;top:425.4px;font-size:16.0px;line-height:16.0px;font-weight:bold;transform:scaleX(1.0325);color:#151515;">100/200/400G</div>
<div class="t" style="left:1137.9px;top:402.9px;font-size:16.7px;line-height:16.7px;font-weight:bold;transform:scaleX(1.0283);color:#151515;">Core</div>
<div class="t" style="left:1137.2px;top:422.8px;font-size:16.9px;line-height:16.9px;font-weight:bold;transform:scaleX(0.9895);color:#151515;">400G</div>
<div class="t" style="left:1326.1px;top:295.8px;font-size:24.0px;line-height:24.0px;transform:scaleX(1.1115);color:#0c0c0c;">Internet</div>
<div class="t" style="left:1346.0px;top:499.2px;font-size:16.7px;line-height:16.7px;font-weight:bold;color:#151515;">100/ 200/ 400G</div>
<div class="t" style="left:810.9px;top:614.1px;font-size:15.7px;line-height:15.7px;transform:scaleX(1.0847);color:#111;-webkit-text-stroke:0.3px #111;">Regional DC</div>
<div class="t" style="left:697.0px;top:408.3px;font-size:15.3px;line-height:15.3px;transform:scaleX(1.0900);color:#cfeab0;">Pre-Agg</div>
<div class="t" style="left:713.0px;top:424.3px;font-size:15.3px;line-height:15.3px;transform:scaleX(1.1096);color:#cfeab0;">Agg</div>
<div class="t" style="left:992.3px;top:415.4px;font-size:16.0px;line-height:16.0px;transform:scaleX(0.9511);color:#d8b8ee;">PE</div>
<div class="t" style="left:1252.2px;top:374.0px;font-size:16.0px;line-height:16.0px;transform:scaleX(0.9647);color:#e6aaa2;">Peering</div>
<div class="t" style="left:1266.7px;top:518.2px;font-size:16.0px;line-height:16.0px;transform:scaleX(0.8892);color:#97def5;">DCI</div>
<div class="t" style="left:1531.0px;top:526.2px;font-size:16.0px;line-height:16.0px;transform:scaleX(0.8892);color:#97def5;">DCI</div>
<div class="t" style="left:284.4px;top:307.7px;font-size:30.5px;line-height:30.5px;font-weight:bold;transform:scaleX(0.8404);color:#e8b030;">3G</div>
<div class="t" style="left:349.0px;top:307.7px;font-size:30.5px;line-height:30.5px;font-weight:bold;transform:scaleX(0.8510);color:#2aaada;">4G</div>
<div class="t" style="left:416.1px;top:307.7px;font-size:30.5px;line-height:30.5px;font-weight:bold;transform:scaleX(0.8640);color:#6cc04a;">5G</div>
<div class="t" style="left:1223.7px;top:573.6px;font-size:11.9px;line-height:11.9px;transform:scaleX(0.9883);color:#9ccbe2;">NSO</div>
<div class="t" style="left:1273.3px;top:558.0px;font-size:11.9px;line-height:11.9px;transform:scaleX(0.9552);color:#9ccbe2;">Analytics/</div>
<div class="t" style="left:1273.0px;top:571.8px;font-size:11.9px;line-height:11.9px;transform:scaleX(0.9948);color:#9ccbe2;">Telemetry</div>
<div class="t" style="left:1206.2px;top:643.3px;font-size:11.9px;line-height:11.9px;transform:scaleX(0.9487);color:#9ccbe2;">SR PCE</div>
<div class="t" style="left:1287.7px;top:643.3px;font-size:11.9px;line-height:11.9px;transform:scaleX(0.9747);color:#9ccbe2;">WAE</div>
<div class="t" style="left:1172.7px;top:599.8px;font-size:30.5px;line-height:30.5px;font-weight:bold;transform:scaleX(0.6981);color:#2fb4e0;">SR</div>
<div class="t" style="left:1488.2px;top:581.6px;font-size:11.9px;line-height:11.9px;transform:scaleX(0.9883);color:#9ccbe2;">NSO</div>
<div class="t" style="left:1537.8px;top:566.0px;font-size:11.9px;line-height:11.9px;transform:scaleX(0.9552);color:#9ccbe2;">Analytics/</div>
<div class="t" style="left:1537.5px;top:579.8px;font-size:11.9px;line-height:11.9px;transform:scaleX(0.9948);color:#9ccbe2;">Telemetry</div>
<div class="t" style="left:1470.7px;top:651.3px;font-size:11.9px;line-height:11.9px;transform:scaleX(0.9487);color:#9ccbe2;">SR PCE</div>
<div class="t" style="left:1552.2px;top:651.3px;font-size:11.9px;line-height:11.9px;transform:scaleX(0.9747);color:#9ccbe2;">WAE</div>
<div class="t" style="left:1437.2px;top:607.8px;font-size:30.5px;line-height:30.5px;font-weight:bold;transform:scaleX(0.6981);color:#2fb4e0;">SR</div>
</body>
</html>
